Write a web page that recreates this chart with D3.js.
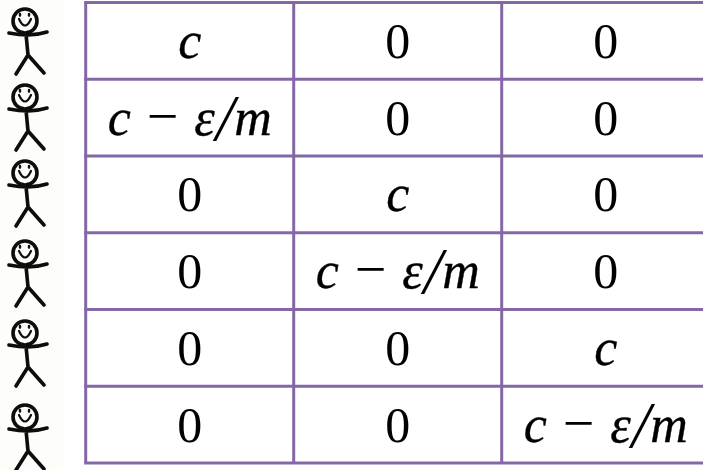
<!DOCTYPE html>
<html>
<head>
<meta charset="utf-8">
<script src="https://cdn.jsdelivr.net/npm/d3@7"></script>
<style>
html, body { margin: 0; padding: 0; background: #fff; }
svg { display: block; }
.cell { font-family: "Liberation Serif", serif; font-size: 50px; fill: #000; text-anchor: middle; }
.sym { font-style: italic; font-size: 52px; stroke: #000; stroke-width: 0.35px; }
.op { font-style: normal; font-size: 56px; }
.slash { font-size: 66px; font-style: italic; }
</style>
</head>
<body>
<script>
//table contents, one array per column
var people = ["p1", "p2", "p3", "p4", "p5", "p6"];
var columns = ["a", "b", "c"];
var colA = ["c", "c \u2212 \u03B5/m", "0", "0", "0", "0"];
var colB = ["0", "0", "c", "c \u2212 \u03B5/m", "0", "0"];
var colC = ["0", "0", "0", "0", "c", "c \u2212 \u03B5/m"];

var width = 703,
    height = 470;

var svg = d3.select("body")
    .append("svg")
    .attr("width", width)
    .attr("height", height);

//soft edge for the pasted (raster looking) figures
svg.append("filter")
    .attr("id", "soft")
    .append("feGaussianBlur")
    .attr("stdDeviation", 0.45);

//row and column scales, the last column runs past the page edge
var rowScale = d3.scaleBand().domain(people).range([2.5, 463]);
var colScale = d3.scaleBand().domain(columns).range([85.7, 709.7]);
//figures were pasted by hand, so they drift away from the rows
var figScale = d3.scaleOrdinal().domain(people).range([21, 97, 173, 253, 333, 417]);

//cream backing of the pasted stick figures
svg.append("rect")
    .attr("x", 0).attr("y", 0)
    .attr("width", 63).attr("height", height)
    .attr("fill", "#fdfdf9");

//stick figures
var fig = svg.selectAll(".fig")
    .data(people)
    .enter()
    .append("g")
    .attr("class", "fig")
    .attr("transform", function(d){ return "translate(25," + figScale(d) + ")"; })
    .attr("filter", "url(#soft)")
    .attr("fill", "none")
    .attr("stroke", "#0a0a0a")
    .attr("stroke-linecap", "round");

fig.append("circle").attr("r", 12).attr("stroke-width", 3.6);
fig.append("path").attr("d", "M-6,-2 Q0,11 6,-2").attr("stroke-width", 2.2);
fig.append("path").attr("d", "M-5,-7 v1.5 M4,-7 v1.5").attr("stroke-width", 2.4);
fig.append("path")
    .attr("d", "M1,13 L3,34 M-16,12 Q-6,14 3,14 Q12,14 22,11 M3,34 L-9,53 M3,34 L19,52")
    .attr("stroke-width", 3.6);

//grid
var grid = svg.append("g").attr("stroke", "#8468a6").attr("stroke-width", 3);

grid.selectAll(".hline")
    .data(d3.range(people.length + 1))
    .enter()
    .append("line")
    .attr("class", "hline")
    .attr("x1", colScale.range()[0] - 1.5)
    .attr("x2", width)
    .attr("y1", function(d){ return rowScale.range()[0] + d * rowScale.step(); })
    .attr("y2", function(d){ return rowScale.range()[0] + d * rowScale.step(); });

grid.selectAll(".vline")
    .data(d3.range(columns.length))
    .enter()
    .append("line")
    .attr("class", "vline")
    .attr("x1", function(d){ return colScale.range()[0] + d * colScale.step(); })
    .attr("x2", function(d){ return colScale.range()[0] + d * colScale.step(); })
    .attr("y1", rowScale.range()[0])
    .attr("y2", rowScale.range()[1]);

//write one cell, the formula gets wider math spacing than plain text
function writeCell(sel, d){
    if (d === "0"){
        sel.text(d);
    } else if (d === "c"){
        sel.append("tspan").attr("class", "sym").text(d);
    } else {
        var parts = d.split(" ");
        var tail = parts[2].split("/");
        sel.append("tspan").attr("class", "sym").text(parts[0]);
        sel.append("tspan").attr("class", "op").attr("dx", 16).text(parts[1]);
        sel.append("tspan").attr("class", "sym").attr("dx", 16).text(tail[0]);
        sel.append("tspan").attr("class", "slash").attr("dx", 1).attr("dy", 5).text("/");
        sel.append("tspan").attr("class", "sym").attr("dx", 0).attr("dy", -5).text(tail[1]);
    }
}

//cell text
[colA, colB, colC].forEach(function(values, c){
    svg.selectAll(".cell" + c)
        .data(values)
        .enter()
        .append("text")
        .attr("class", "cell cell" + c)
        .attr("x", colScale(columns[c]) + colScale.bandwidth() / 2)
        .attr("y", function(d, i){ return rowScale(people[i]) + rowScale.bandwidth() / 2 + 17; })
        .each(function(d){ writeCell(d3.select(this), d); });
});
</script>
</body>
</html>
